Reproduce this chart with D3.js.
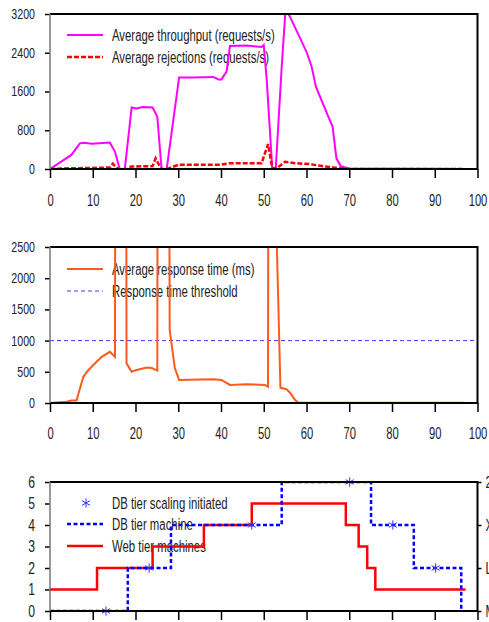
<!doctype html>
<html>
<head>
<meta charset="utf-8"/>
<script src="https://cdnjs.cloudflare.com/ajax/libs/d3/7.8.5/d3.min.js"></script>
<style>
  body { margin: 0; background: #fff; }
  text { font-family: "Liberation Sans", Arial, sans-serif; fill: #222; }
</style>
</head>
<body>
<svg id="chart" width="489" height="622"></svg>
<script>
// ---- data ----
var throughput = [[0,0],[2,115],[5,290],[7,530],[8,540],[9.8,520],[14,545],[15.2,355],[16.3,0],[17.5,0],[19.1,1270],[20.2,1250],[21.7,1280],[24,1270],[25.1,1080],[26.1,0],[27.3,0],[28,460],[30.2,1890],[33.5,1890],[38.2,1900],[39.4,1850],[40.1,1850],[41.3,2010],[42.1,2540],[46,2550],[49.5,2520],[50,2560],[50.7,1840],[52,0],[52.8,0],[54.2,2110],[55.1,3300],[56.1,3150],[60,2420],[61.2,2110],[62.2,1700],[65.1,1080],[66.1,875],[67,220],[68,60],[70,10],[97,0]];
var rejections = [[0,0],[5,15],[14,30],[14.7,110],[15.2,60],[16,0],[18,0],[19,50],[24,60],[24.7,220],[26,0],[27.3,0],[28,20],[30,85],[40,90],[42,120],[49.5,120],[51,515],[52,20],[53,10],[55,150],[57.3,120],[60.8,100],[63,70],[65.4,40],[68,15],[70,0],[97,0]];
var respTime = [[0,0],[3.9,20],[5,40],[6.2,40],[7.8,420],[9,530],[10.9,660],[12.1,740],[14,820],[15.2,740],[15.3,6000],[17.8,6000],[17.9,635],[19.1,500],[20.3,530],[22.6,570],[23.8,560],[25.1,520],[25.2,6000],[27.8,6000],[28,1170],[29.2,560],[30.2,370],[38.2,380],[40.1,370],[42.1,290],[46,300],[50.3,290],[51,260],[51.1,6000],[53,2700],[53.9,245],[55.3,220],[56.1,170],[57.3,50],[58,10],[97,5]];
var threshold = [[0,1000],[100,1000]];
var webTier = [[0,1],[11,1],[11,2],[24,2],[24,3],[36,3],[36,4],[47.2,4],[47.2,5],[69.2,5],[69.2,4],[72.2,4],[72.2,3],[74.2,3],[74.2,2],[76.1,2],[76.1,1],[97.2,1]];
var dbTier = [[0,0],[18.2,0],[18.2,2],[28.3,2],[28.3,4],[54.2,4],[54.2,6],[75.1,6],[75.1,4],[85.1,4],[85.1,2],[96.2,2],[96.2,0]];
var dbScaling = [[13.1,0],[23.2,2],[47.2,4],[70.1,6],[80.2,4],[90.2,2]];
var xTicks = [0,10,20,30,40,50,60,70,80,90,100];
var sizeLabels = ["M","L","XL","2XL"];

var svg = d3.select("#chart");
var left = 50, right = 477.5;
var x = d3.scaleLinear().domain([0,100]).range([left,right]);

// the original uses a narrow font; squeeze Liberation Sans horizontally
function narrow(sel, k) {
  sel.each(function() {
    var w = this.getComputedTextLength();
    d3.select(this).attr("textLength", w * k).attr("lengthAdjust", "spacingAndGlyphs");
  });
}

function panel(id, top, bottom, ymax, yticks, xPad, ySize) {
  var y = d3.scaleLinear().domain([0,ymax]).range([bottom,top]);
  var g = svg.append("g").attr("id", id);
  g.append("clipPath").attr("id", id + "clip")
    .append("rect").attr("x", left).attr("y", top).attr("width", right-left).attr("height", bottom-top);
  // y axis
  var ya = g.append("g").attr("transform", "translate(" + left + ",0)")
    .call(d3.axisLeft(y).tickValues(yticks).tickFormat(d3.format("d")).tickSize(5).tickPadding(10));
  ya.select(".domain").remove();
  ya.selectAll("line").attr("stroke", "#000").attr("stroke-width", 1.5);
  ya.selectAll("text").style("font-size", ySize + "px").call(narrow, 0.76);
  // x axis
  var xa = g.append("g").attr("transform", "translate(0," + bottom + ")")
    .call(d3.axisBottom(x).tickValues(xTicks).tickSize(9).tickPadding(xPad || 0));
  xa.select(".domain").remove();
  xa.selectAll("line").attr("stroke", "#000").attr("stroke-width", 1.5);
  if (xPad) xa.selectAll("text").style("font-size", "16px").call(narrow, 0.7);
  else xa.selectAll("text").remove();
  return {g: g, y: y, top: top, bottom: bottom, clip: "url(#" + id + "clip)"};
}

function frame(p) {
  p.g.append("path").attr("d", "M" + left + "," + p.top + "H" + right + "V" + p.bottom + "H" + left)
    .attr("fill", "none").attr("stroke", "#000").attr("stroke-width", 2);
  p.g.append("line").attr("x1", left).attr("x2", left).attr("y1", p.top).attr("y2", p.bottom)
    .attr("stroke", "#777").attr("stroke-width", 1.5);
}

function drawLine(p, data, color, width, dash) {
  var line = d3.line().x(function(d){ return x(d[0]); }).y(function(d){ return p.y(d[1]); });
  p.g.append("path").attr("d", line(data)).attr("fill", "none")
    .attr("stroke", color).attr("stroke-width", width)
    .attr("stroke-dasharray", dash || null).attr("clip-path", p.clip);
}

function legendText(p, xx, yy, label) {
  p.g.append("text").attr("x", xx).attr("y", yy).style("font-size", "16px").text(label).call(narrow, 0.71);
}

function legendItem(p, yy, color, width, dash, label) {
  p.g.append("line").attr("x1", 67).attr("x2", 103).attr("y1", yy).attr("y2", yy)
    .attr("stroke", color).attr("stroke-width", width).attr("stroke-dasharray", dash || null);
  legendText(p, 112, yy + 5.5, label);
}

// ---- panel 1 ----
var p1 = panel("p1", 14, 169, 3200, [0,800,1600,2400,3200], 17, 14);
legendItem(p1, 35, "#ff00ff", 2, null, "Average throughput (requests/s)");
legendItem(p1, 57, "#ff0000", 2.5, "5,2", "Average rejections (requests/s)");
drawLine(p1, throughput, "#ff00ff", 2);
drawLine(p1, rejections, "#ff0000", 2.5, "5,2");
frame(p1);

// ---- panel 2 ----
var p2 = panel("p2", 247, 403, 2500, [0,500,1000,1500,2000,2500], 16, 14);
legendItem(p2, 269, "#ff5a1e", 2, null, "Average response time (ms)");
legendItem(p2, 291, "#3a3aff", 1, "4,3", "Response time threshold");
drawLine(p2, threshold, "#3a3aff", 1, "4,3");
drawLine(p2, respTime, "#ff5a1e", 2);
frame(p2);

// ---- panel 3 ----
var p3 = panel("p3", 482, 611, 6, [0,1,2,3,4,5,6], 0, 16);
p3.g.append("path").attr("d", d3.symbol(d3.symbolAsterisk, 60)())
  .attr("transform", "translate(86,503)").attr("stroke", "#3030ff").attr("stroke-width", 1).attr("fill", "none");
legendText(p3, 112, 508.5, "DB tier scaling initiated");
legendItem(p3, 524, "#0000ff", 2.5, "4,2.5", "DB tier machine");
legendItem(p3, 546, "#ff0000", 2.5, null, "Web tier machines");
drawLine(p3, webTier, "#ff0000", 2.5);
drawLine(p3, dbTier, "#0000ff", 2.5, "4,2.5");
p3.g.selectAll(".mark").data(dbScaling).enter().append("path").attr("class", "mark")
  .attr("d", d3.symbol(d3.symbolAsterisk, 60)())
  .attr("transform", function(d){ return "translate(" + x(d[0]) + "," + p3.y(d[1]) + ")"; })
  .attr("stroke", "#3030ff").attr("stroke-width", 1).attr("fill", "none");
frame(p3);
// right axis with machine sizes
var ra = p3.g.append("g").attr("transform", "translate(" + right + ",0)")
  .call(d3.axisRight(p3.y).tickValues([0,2,4,6]).tickFormat(function(d,i){ return sizeLabels[i]; }).tickSize(4).tickPadding(4));
ra.select(".domain").remove();
ra.selectAll("line").attr("stroke", "#000").attr("stroke-width", 1.5);
ra.selectAll("text").style("font-size", "16px").call(narrow, 0.72);
</script>
</body>
</html>
